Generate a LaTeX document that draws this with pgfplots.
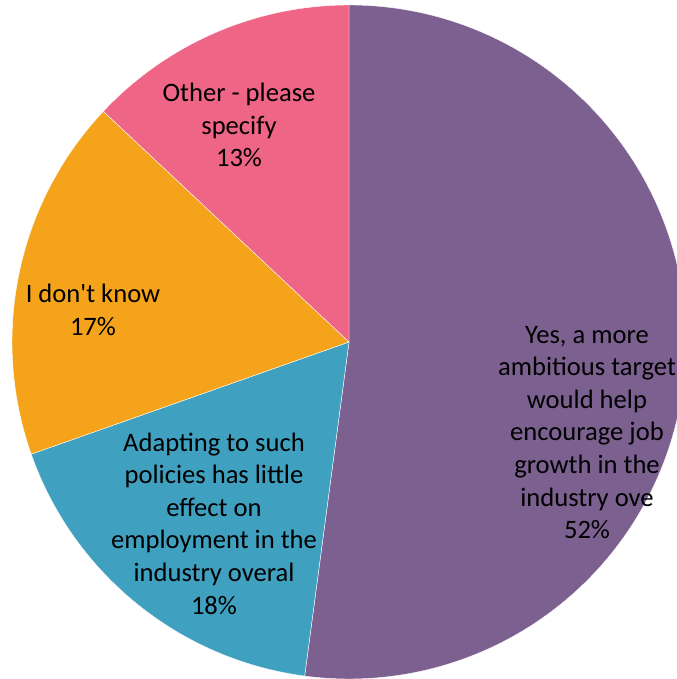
\documentclass[border=0pt]{standalone}
\usepackage{pgfplots}
\usepackage{pgfplotstable}
\pgfplotsset{compat=1.18}
\usepackage{fontspec}
\setmainfont{Carlito}
\newfontfamily\carlito{Carlito}
\definecolor{cyes}{HTML}{7B6090}
\definecolor{cadapt}{HTML}{40A0C0}
\definecolor{cdk}{HTML}{F4A31B}
\definecolor{cother}{HTML}{EF6585}
\pgfplotstableread{
label pct
Yes 52.1
Adapting 17.5
DontKnow 17.4
Other 13.0
}\piedata
\pgfplotstablegetelem{0}{pct}\of\piedata \let\pYes\pgfplotsretval
\pgfplotstablegetelem{1}{pct}\of\piedata \let\pAd\pgfplotsretval
\pgfplotstablegetelem{2}{pct}\of\piedata \let\pDk\pgfplotsretval
\pgfplotstablegetelem{3}{pct}\of\piedata \let\pOt\pgfplotsretval
\pgfmathsetmacro{\aA}{90}
\pgfmathsetmacro{\aB}{\aA-\pYes*3.6}
\pgfmathsetmacro{\aC}{\aB-\pAd*3.6}
\pgfmathsetmacro{\aD}{\aC-\pDk*3.6}
\pgfmathsetmacro{\aE}{\aD-\pOt*3.6}
\begin{document}
\begin{tikzpicture}
\useasboundingbox (0,0) rectangle (677bp,679bp);
\clip (0,0) rectangle (677bp,679bp);
\begin{axis}[
  width=677bp, height=679bp, scale only axis,
  xmin=0, xmax=677, ymin=0, ymax=679,
  hide axis, clip=true,
]
\fill[cyes, draw=white, line width=0.4bp] (axis cs:349,337) -- ++(\aA:337bp) arc[start angle=\aA, end angle=\aB, radius=337bp] -- cycle;
\fill[cadapt, draw=white, line width=0.4bp] (axis cs:349,337) -- ++(\aB:337bp) arc[start angle=\aB, end angle=\aC, radius=337bp] -- cycle;
\fill[cdk, draw=white, line width=0.4bp] (axis cs:349,337) -- ++(\aC:337bp) arc[start angle=\aC, end angle=\aD, radius=337bp] -- cycle;
\fill[cother, draw=white, line width=0.4bp] (axis cs:349,337) -- ++(\aD:337bp) arc[start angle=\aD, end angle=\aE, radius=337bp] -- cycle;
\begin{scope}[every node/.style={align=center, inner sep=0pt, font=\carlito\fontsize{26.6bp}{32.6bp}\selectfont, text=black}]
\node at (axis cs:587,246.5) {Yes, a more\\ambitious target\\would help\\encourage job\\growth in the\\industry ove\\52\%};
\node at (axis cs:214,155.5) {Adapting to such\\policies has little\\effect on\\employment in the\\industry overal\\18\%};
\node at (axis cs:93,369) {I don't know\\17\%};
\node at (axis cs:239,554) {Other - please\\specify\\13\%};
\end{scope}
\end{axis}
\end{tikzpicture}
\end{document}
